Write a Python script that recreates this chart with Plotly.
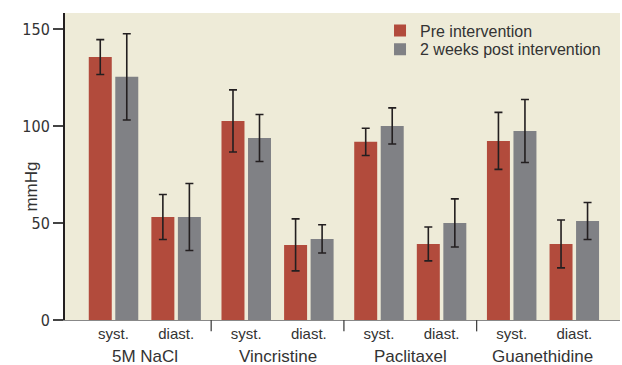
import plotly.graph_objects as go

groups = ["5M NaCl", "Vincristine", "Paclitaxel", "Guanethidine"]
measures = ["syst.", "diast."]
series_names = ["Pre intervention", "2 weeks post intervention"]

pre_values = [135.5, 53.1, 102.6, 38.7, 91.8, 39.2, 92.3, 39.2]
pre_errors = [9.0, 11.6, 16.0, 13.4, 7.0, 8.75, 14.7, 12.35]
post_values = [125.3, 53.1, 93.8, 41.8, 100.0, 50.0, 97.4, 51.0]
post_errors = [22.2, 17.25, 12.1, 7.25, 9.3, 12.4, 16.25, 9.55]

RED = "#B24B3C"
GRAY = "#808185"
CREAM = "#EEEBD8"
TEXT = "#333333"
GROUP_STEP = 2.12

xpos = [g * GROUP_STEP + s for g in range(len(groups)) for s in range(len(measures))]
ticktext = [m for g in groups for m in measures]

fig = go.Figure()
for name, vals, errs, col, leg in [
    (series_names[0], pre_values, pre_errors, RED, "legend"),
    (series_names[1], post_values, post_errors, GRAY, "legend2"),
]:
    fig.add_trace(go.Bar(
        x=xpos, y=vals, name=name, legend=leg,
        marker=dict(color=col, line=dict(width=0)),
        error_y=dict(type="data", array=errs, visible=True, color="#231F20",
                     thickness=1.6, width=4),
    ))

# group labels and dividers
for g, name in enumerate(groups):
    center = g * GROUP_STEP + 0.5
    fig.add_annotation(x=center, y=0, xref="x", yref="paper", text=name,
                       showarrow=False, yanchor="top", yshift=-25,
                       font=dict(size=17, color=TEXT))
for g in range(len(groups) - 1):
    xd = g * GROUP_STEP + 1 + (GROUP_STEP - 1) / 2
    fig.add_shape(type="line", x0=xd, x1=xd, y0=0, y1=-0.037, xref="x", yref="paper",
                  line=dict(color="#444444", width=1.3))

fig.add_annotation(x=-0.081, y=0.433, xref="paper", yref="paper", text="mmHg",
                   showarrow=False, textangle=-90, font=dict(size=17, color=TEXT))

legend_common = dict(xanchor="left", yanchor="middle", bgcolor="rgba(0,0,0,0)",
                     font=dict(size=16, color=TEXT), itemwidth=30)

fig.update_layout(
    width=622, height=365,
    margin=dict(l=65, r=2, t=13, b=45),
    paper_bgcolor="white", plot_bgcolor=CREAM,
    barmode="group", bargap=0.153, bargroupgap=0.133,
    font=dict(family="Liberation Sans, Arial, sans-serif", color=TEXT),
    showlegend=True,
    legend=dict(x=0.5676, y=(320 - 30.7) / 307, **legend_common),
    legend2=dict(x=0.5676, y=(320 - 49.3) / 307, **legend_common),
    xaxis=dict(range=[-0.775, 8.09], tickvals=xpos, ticktext=ticktext,
               showgrid=False, zeroline=False, showline=True, linecolor="#888888",
               linewidth=1, ticks="", tickfont=dict(size=15, color=TEXT)),
    yaxis=dict(range=[0, 158.2], tickvals=[0, 50, 100, 150], showgrid=False,
               zeroline=False, showline=True, linecolor="#231F20", linewidth=2,
               ticks="outside", ticklen=10, tickwidth=1.5, tickcolor="#444444",
               tickfont=dict(size=16, color=TEXT,
                             family="Liberation Sans Narrow, Arial Narrow, DejaVu Sans Condensed, sans-serif")),
)

fig.write_html("out.html", config={"displayModeBar": False},
               post_script="document.body.style.margin='0';document.body.style.padding='0';")
